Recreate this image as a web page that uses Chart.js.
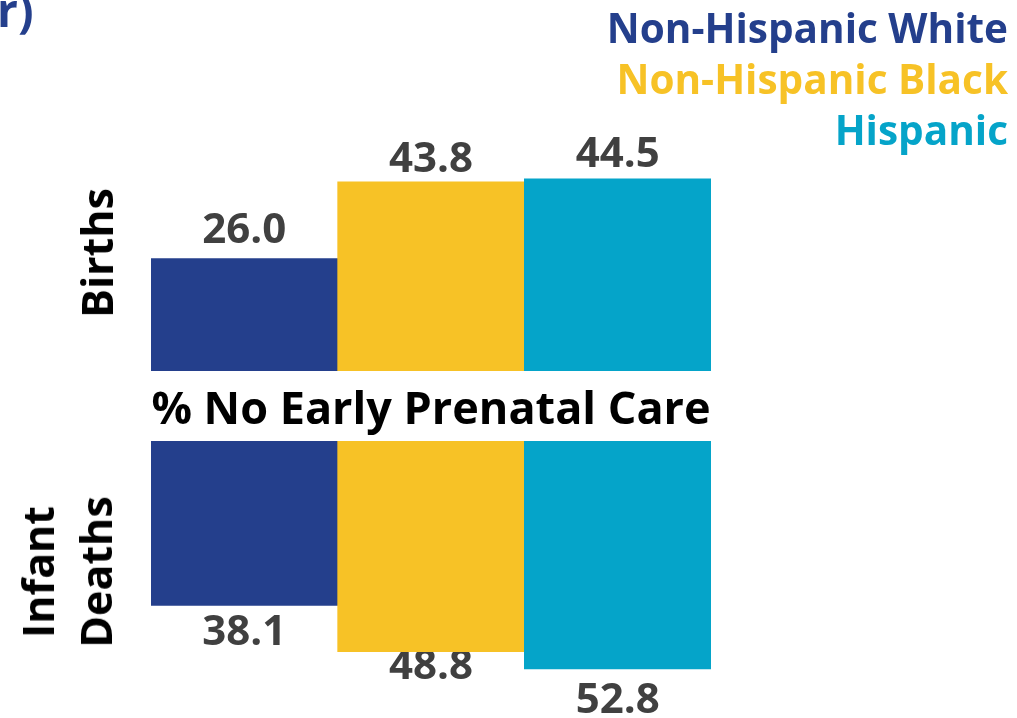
<!DOCTYPE html>
<html>
<head>
<meta charset="utf-8">
<script src="https://cdn.jsdelivr.net/npm/chart.js@4.4.0/dist/chart.umd.min.js"></script>
<style>
  html, body { margin: 0; padding: 0; background: #fff; }
  body { width: 1017px; height: 718px; position: relative; overflow: hidden;
         font-family: "Open Sans", "Noto Sans", sans-serif; font-weight: 700; }
  .abs { position: absolute; }
  #legend { right: 9px; top: 2px; text-align: right; font-size: 40.5px; line-height: 51px; white-space: nowrap; }
  #titleTail { left: -3px; top: -22px; font-size: 46px; color: #243f8c; }
  #midLabel { left: 131px; width: 600px; top: 376px; text-align: center; font-size: 45px; color: #000; white-space: nowrap; }
  .vlab { color: #000; font-size: 43px; line-height: 58px; text-align: center; white-space: nowrap;
          transform: translate(-50%, -50%) rotate(-90deg); }
  #topWrap { left: 0; top: 0; }
  #botWrap { left: 0; top: 400px; }
</style>
</head>
<body>
<div id="topWrap" class="abs"><canvas id="birthsChart" width="1017" height="400"></canvas></div>
<div id="botWrap" class="abs"><canvas id="deathsChart" width="1017" height="318"></canvas></div>
<div id="titleTail" class="abs">r)</div>
<div id="legend" class="abs"></div>
<div id="midLabel" class="abs">% No Early Prenatal Care</div>
<div class="abs vlab" style="left:97px; top:253px;">Births</div>
<div class="abs vlab" style="left:67px; top:572px;">Infant<br>Deaths</div>
<script>
const groups = ['Non-Hispanic White', 'Non-Hispanic Black', 'Hispanic'];
const groupColors = ['#243f8c', '#f7c226', '#05a4c9'];
const birthsPct = [26.0, 43.8, 44.5];
const deathsPct = [38.1, 48.8, 52.8];

// legend text
const legend = document.getElementById('legend');
groups.forEach((g, i) => {
  const d = document.createElement('div');
  d.textContent = g;
  d.style.color = groupColors[i];
  legend.appendChild(d);
});

// value labels above (births) or below (deaths) each bar;
// drawn before the bars so a bar can cover a label that sits too close
const valueLabels = {
  id: 'valueLabels',
  beforeDatasetsDraw(chart, args, opts) {
    const ctx = chart.ctx;
    const meta = chart.getDatasetMeta(0);
    ctx.save();
    ctx.font = '700 42px "Open Sans", sans-serif';
    ctx.fillStyle = '#404040';
    ctx.textAlign = 'center';
    ctx.textBaseline = 'alphabetic';
    meta.data.forEach((bar, i) => {
      const v = chart.data.datasets[0].data[i].toFixed(1);
      const gap = opts.gaps[i];
      const y = opts.below ? bar.y + gap + 30 : bar.y - gap;
      ctx.fillText(v, bar.x, y);
    });
    ctx.restore();
  }
};

function makeChart(id, values, yMax, reverse, padding, gaps) {
  return new Chart(document.getElementById(id).getContext('2d'), {
    type: 'bar',
    data: {
      labels: groups,
      datasets: [{
        data: values,
        backgroundColor: groupColors,
        borderWidth: 0,
        barPercentage: 1,
        categoryPercentage: 1
      }]
    },
    options: {
      responsive: false,
      animation: false,
      layout: { padding },
      plugins: {
        legend: { display: false },
        tooltip: { enabled: false },
        valueLabels: { below: reverse, gaps }
      },
      scales: {
        x: { display: false },
        y: { display: false, min: 0, max: yMax, reverse }
      }
    },
    plugins: [valueLabels]
  });
}

// births: baseline at y=371, bars grow upward
makeChart('birthsChart', birthsPct, 50, false,
  { left: 151, right: 306, top: 155, bottom: 29 }, [16, 10, 12]);
// infant deaths: baseline at y=441 (41 in this canvas), bars grow downward
makeChart('deathsChart', deathsPct, 60, true,
  { left: 151, right: 306, top: 41, bottom: 18 }, [10, -3, 14]);
</script>
</body>
</html>
